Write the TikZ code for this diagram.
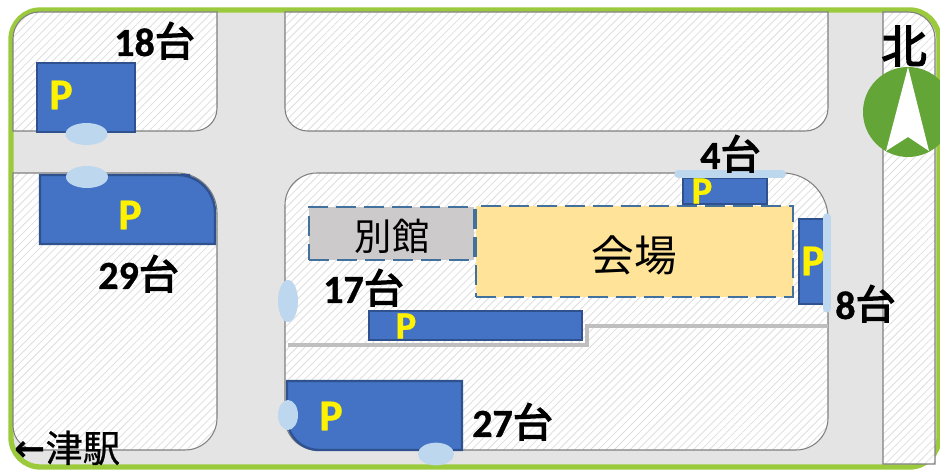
\documentclass[tikz,border=0pt]{standalone}
\usepackage{fontspec}
\setmainfont{Carlito}[BoldFeatures={FakeBold=0.8}]
\newfontfamily\cjk{Noto Sans CJK JP}
\newfontfamily\cjkm[FakeBold=0.7]{Noto Sans CJK JP}
\newfontfamily\cjkb[FakeBold=3.2]{Noto Sans CJK JP}
\newfontfamily\arrowfont{DejaVu Sans}
\usetikzlibrary{patterns.meta,shapes.geometric}
\definecolor{roadgray}{HTML}{E4E4E4}
\definecolor{framegreen}{HTML}{9BCB3C}
\definecolor{compassgreen}{HTML}{63A537}
\definecolor{parkblue}{HTML}{4472C4}
\definecolor{parkedge}{HTML}{2F528F}
\definecolor{gatelight}{HTML}{BDD7EE}
\definecolor{halldash}{HTML}{41719C}
\definecolor{hallfill}{HTML}{FFE399}
\definecolor{annexfill}{HTML}{CCCACB}
\tikzset{
  block/.style={draw=black!50,line width=0.8pt,preaction={fill=white},pattern={Lines[angle=45,distance=4.2pt,line width=0.6pt]},pattern color=black!13},
  parking/.style={draw=parkedge,line width=1.8pt,fill=parkblue},
  gate/.style={ellipse,fill=gatelight,inner sep=0pt,draw=none},
  gatebar/.style={draw=gatelight,line width=5.5pt,line cap=round},
  hall/.style={draw=halldash,line width=2pt,dash pattern=on 15pt off 6pt},
  count/.style={font=\bfseries\fontsize{30}{30}\selectfont,anchor=base west,inner sep=0pt},
  pmark/.style={font=\bfseries\fontsize{33}{33}\selectfont,text=yellow,inner sep=0pt},
  wall/.style={draw=black!25,line width=3pt},
}
\newcommand{\tai}{{\mdseries\cjkb 台}}
\begin{document}
\begin{tikzpicture}[x=0.75pt,y=-0.75pt]
\useasboundingbox (0,0) rectangle (940,470);
\clip (0,0) rectangle (940,470);
\fill[white] (0,0) rectangle (940,470);
% road and frame
\draw[draw=framegreen,line width=4pt,fill=roadgray,rounded corners=22pt] (11,10) rectangle (939,467);
% blocks
\draw[block] (13,131) [rounded corners=20pt] -- (13,12) [sharp corners] -- (217,12) [rounded corners=17pt] -- (217,131) [sharp corners] -- cycle;
\draw[block] (285,12) [rounded corners=17pt] -- (285,131) -- (828,131) [sharp corners] -- (828,12) -- cycle;
\draw[block] (13,173) -- (13,425) [rounded corners=18pt] -- (13,450) [sharp corners] -- (40,450) [rounded corners=24pt] -- (217,450) [rounded corners=30pt] -- (217,173) [sharp corners] -- cycle;
\draw[block] (285,300) [rounded corners=24pt] -- (285,173) [sharp corners] -- (500,173) [rounded corners=34pt] -- (828,173) [rounded corners=24pt] -- (828,450) -- (285,450) [sharp corners] -- cycle;
\draw[block] (883,12) -- (883,464) -- (935,464) -- (935,40) [rounded corners=20pt] -- (935,12) [sharp corners] -- cycle;
% wall
\coordinate (wa) at (288,345);
\coordinate (wb) at (587,345);
\coordinate (wc) at (587,326);
\coordinate (wd) at (828,326);
\draw[wall] (wa) -- (wb) -- (wc) -- (wd);
% buildings
\node[hall,fill=annexfill,minimum width=123.75pt,minimum height=39.75pt,inner sep=0pt] (annex) at (391.5,233.5) {};
\node[font=\cjk\fontsize{28}{28}\selectfont,inner sep=0pt] (annexlabel) at (392,236) {別館};
\node[hall,fill=hallfill,minimum width=237.75pt,minimum height=68.25pt,inner sep=0pt] (venue) at (634.5,251.5) {};
\node[font=\cjk\fontsize{32}{32}\selectfont,inner sep=0pt] (venuelabel) at (634,255) {会場};
% parking lots
\draw[parking] (37,63) rectangle (135,132);
\draw[parking] (40,175) -- (190,175) [rounded corners=28pt] -- (215,175) [sharp corners] -- (215,244) -- (40,244) -- cycle;
\draw[parking] (683,178) rectangle (767,204);
\draw[parking] (799,219) rectangle (824,304);
\draw[parking] (369,311) rectangle (582,340);
\draw[parking] (287,381) -- (462,381) -- (462,450) [rounded corners=24pt] -- (287,450) [sharp corners] -- cycle;
% gates
\node[gate,minimum width=31.5pt,minimum height=16.5pt] (g1) at (86.5,134) {};
\node[gate,minimum width=31.5pt,minimum height=16.5pt] (g2) at (87,177) {};
\node[gate,minimum width=15pt,minimum height=31.5pt] (g3) at (288,301) {};
\node[gate,minimum width=15pt,minimum height=22.5pt] (g4) at (288,415) {};
\node[gate,minimum width=27pt,minimum height=17pt] (g5) at (436,454) {};
\coordinate (b1a) at (678,174);
\coordinate (b1b) at (782,174);
\coordinate (b2a) at (827,217);
\coordinate (b2b) at (827,309);
% P marks
\node[pmark] (p1) at (61,95) {P};
\node[pmark] (p2) at (130,215) {P};
\node[pmark,font=\bfseries\fontsize{29}{29}\selectfont] (p3) at (702,191) {P};
\node[pmark] (p4) at (813,261) {P};
\node[pmark,font=\bfseries\fontsize{29}{29}\selectfont] (p5) at (406,326) {P};
\node[pmark] (p6) at (331,416) {P};
\draw[gatebar] (b1a) -- (b1b);
\draw[gatebar] (b2a) -- (b2b);
% counts
\node[count] (c18) at (114,56) {18\tai};
\node[count] (c29) at (98,289) {29\tai};
\node[count] (c17) at (323,303) {17\tai};
\node[count] (c4) at (700,169) {4\tai};
\node[count] (c8) at (835,319) {8\tai};
\node[count] (c27) at (472,437) {27\tai};
% compass
\fill[compassgreen] (908,112) circle[radius=45];
\fill[white] (908,67) -- (929,151) -- (908,137) -- (886,151) -- cycle;
\node[font=\cjkb\fontsize{34}{34}\selectfont,inner sep=0pt] (north) at (904,46) {北};
% station
\node[anchor=base west,inner sep=0pt,font=\fontsize{28}{28}\selectfont] (station) at (14,462) {{\arrowfont\bfseries ←}{\cjkm 津駅}};
\end{tikzpicture}
\end{document}
